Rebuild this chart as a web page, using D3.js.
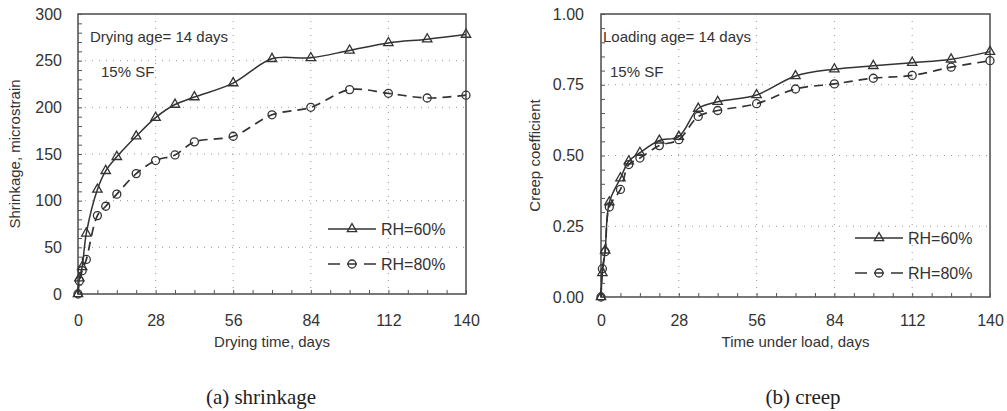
<!DOCTYPE html>
<html>
<head>
<meta charset="utf-8">
<script src="https://cdn.jsdelivr.net/npm/d3@7"></script>
<style>
  body { margin: 0; background: #fff; }
  svg { display: block; font-family: "Liberation Sans", Arial, sans-serif; }
</style>
</head>
<body>
<svg id="viz" width="1007" height="411"></svg>
<script>
// time points, days
const days = [0, 0.5, 1.5, 3, 7, 10, 14, 21, 28, 35, 42, 56, 70, 84, 98, 112, 126, 140];

// (a) shrinkage, microstrain
const shrinkRH60 = [0, 17, 29, 65, 112, 132, 147, 169, 189, 203, 211, 226, 252, 253, 261, 269, 273, 278];
const shrinkRH80 = [0, 14, 25, 37, 84, 94, 107, 129, 143, 149, 163, 169, 192, 200, 219, 215, 210, 213];

// (b) creep coefficient
const creepRH60 = [0, 0.085, 0.165, 0.335, 0.42, 0.48, 0.51, 0.553, 0.567, 0.666, 0.69, 0.714, 0.781, 0.805, 0.817, 0.828, 0.84, 0.867];
const creepRH80 = [0, 0.10, 0.16, 0.318, 0.38, 0.468, 0.491, 0.535, 0.556, 0.638, 0.659, 0.683, 0.735, 0.753, 0.773, 0.783, 0.812, 0.835];

const xTicks = [0, 28, 56, 84, 112, 140];
const shrinkTicks = [0, 50, 100, 150, 200, 250, 300];
const creepTicks = [0, 0.25, 0.5, 0.75, 1.0];
const seriesNames = ['RH=60%', 'RH=80%'];

const svg = d3.select('#viz');
const ink = '#333';

function panel(cfg) {
    const g = svg.append('g');
    const x = d3.scaleLinear().domain([0, 140]).range([cfg.left, cfg.right]);
    const y = d3.scaleLinear().domain([cfg.yTicks[0], cfg.yTicks[cfg.yTicks.length - 1]]).range([cfg.bottom, cfg.top]);

    // dotted grid
    g.selectAll('.hg').data(cfg.yTicks.slice(1, -1)).enter().append('line')
        .attr('x1', cfg.left).attr('x2', cfg.right)
        .attr('y1', d => y(d)).attr('y2', d => y(d))
        .attr('stroke', '#999').attr('stroke-width', 1).attr('stroke-dasharray', '1,6');
    g.selectAll('.vg').data(xTicks.slice(1, -1)).enter().append('line')
        .attr('x1', d => x(d)).attr('x2', d => x(d))
        .attr('y1', cfg.top).attr('y2', cfg.bottom)
        .attr('stroke', '#999').attr('stroke-width', 1).attr('stroke-dasharray', '1,6');

    // minor ticks, pointing inward
    g.append('g').attr('transform', `translate(0,${cfg.bottom})`)
        .call(d3.axisTop(x).tickValues(d3.range(0, 141, 7)).tickSize(4).tickFormat(''))
        .call(a => a.select('.domain').remove())
        .selectAll('line').attr('stroke', '#555');
    g.append('g').attr('transform', `translate(${cfg.left},0)`)
        .call(d3.axisRight(y).tickValues(d3.range(cfg.yTicks[0], cfg.yTicks[cfg.yTicks.length - 1] + cfg.minor / 2, cfg.minor)).tickSize(4).tickFormat(''))
        .call(a => a.select('.domain').remove())
        .selectAll('line').attr('stroke', '#555');

    // tick labels
    g.append('g').attr('transform', `translate(0,312)`)
        .call(d3.axisBottom(x).tickValues(xTicks).tickSize(0))
        .call(a => a.select('.domain').remove())
        .selectAll('text').attr('font-size', 16).attr('fill', ink).attr('font-family', 'Liberation Sans, Arial, sans-serif');
    g.append('g').attr('transform', `translate(${cfg.left - cfg.labGap},0)`)
        .call(d3.axisLeft(y).tickValues(cfg.yTicks).tickSize(0).tickFormat(cfg.fmt))
        .call(a => a.select('.domain').remove())
        .selectAll('text').attr('font-size', 16).attr('fill', ink).attr('font-family', 'Liberation Sans, Arial, sans-serif');

    // frame
    g.append('rect')
        .attr('x', cfg.left).attr('y', cfg.top)
        .attr('width', cfg.right - cfg.left).attr('height', cfg.bottom - cfg.top)
        .attr('fill', 'none').attr('stroke', '#555').attr('stroke-width', 1.6);

    // lines
    const line = d3.line()
        .x((d, i) => x(days[i]))
        .y(d => y(d))
        .curve(d3.curveCatmullRom.alpha(0.5));

    g.append('path').datum(cfg.s60).attr('d', line)
        .attr('fill', 'none').attr('stroke', ink).attr('stroke-width', 1.5);
    g.append('path').datum(cfg.s80).attr('d', line)
        .attr('fill', 'none').attr('stroke', ink).attr('stroke-width', 1.7).attr('stroke-dasharray', '9,6');

    const tri = d3.symbol().type(d3.symbolTriangle).size(38);
    g.selectAll('.tri').data(cfg.s60).enter().append('path')
        .attr('d', tri)
        .attr('transform', (d, i) => `translate(${x(days[i])},${y(d)})`)
        .attr('fill', 'none').attr('stroke', ink).attr('stroke-width', 1.3);
    g.selectAll('.cir').data(cfg.s80).enter().append('circle')
        .attr('cx', (d, i) => x(days[i])).attr('cy', d => y(d)).attr('r', 4)
        .attr('fill', 'none').attr('stroke', ink).attr('stroke-width', 1.3);

    // legend
    const lx = cfg.legX, ly = cfg.legY;
    g.append('line').attr('x1', lx).attr('x2', lx + 48).attr('y1', ly).attr('y2', ly)
        .attr('stroke', ink).attr('stroke-width', 1.5);
    g.append('path').attr('d', tri).attr('transform', `translate(${lx + 24},${ly})`)
        .attr('fill', 'none').attr('stroke', ink).attr('stroke-width', 1.3);
    g.append('line').attr('x1', lx).attr('x2', lx + 48).attr('y1', ly + 35).attr('y2', ly + 35)
        .attr('stroke', ink).attr('stroke-width', 1.7).attr('stroke-dasharray', '12,7,10,7,12');
    g.append('circle').attr('cx', lx + 24).attr('cy', ly + 35).attr('r', 4)
        .attr('fill', 'none').attr('stroke', ink).attr('stroke-width', 1.3);
    g.selectAll('.lt').data(seriesNames).enter().append('text')
        .attr('x', lx + 53).attr('y', (d, i) => ly + i * 35 + 6)
        .attr('font-size', 16).attr('fill', ink).text(d => d);

    // annotations
    g.append('text').attr('x', cfg.noteX).attr('y', 42).attr('font-size', 15).attr('fill', ink).text(cfg.note);
    g.append('text').attr('x', cfg.noteX + cfg.sfDx).attr('y', 77).attr('font-size', 15).attr('fill', ink).text('15% SF');

    // axis titles
    g.append('text').attr('x', (cfg.left + cfg.right) / 2).attr('y', 347)
        .attr('text-anchor', 'middle').attr('font-size', 15).attr('fill', ink).text(cfg.xTitle);
    g.append('text')
        .attr('transform', `translate(${cfg.yTitleX},${(cfg.top + cfg.bottom) / 2}) rotate(-90)`)
        .attr('text-anchor', 'middle').attr('font-size', 15).attr('fill', ink).text(cfg.yTitle);

    // caption
    g.append('text').attr('x', cfg.capX).attr('y', 404)
        .attr('text-anchor', 'middle').attr('font-size', 21).attr('fill', '#222')
        .attr('font-family', '"Liberation Serif", "Times New Roman", serif').text(cfg.caption);
}

panel({
    left: 78, right: 466, top: 14, bottom: 294,
    yTicks: shrinkTicks, minor: 10, fmt: d3.format('d'), labGap: 13,
    s60: shrinkRH60, s80: shrinkRH80,
    legX: 328, legY: 229,
    note: 'Drying age= 14 days', noteX: 90, sfDx: 11,
    xTitle: 'Drying time, days', yTitle: 'Shrinkage, microstrain', yTitleX: 20,
    caption: '(a) shrinkage', capX: 261
});

panel({
    left: 601, right: 990, top: 14, bottom: 297,
    yTicks: creepTicks, minor: 0.05, fmt: d3.format('.2f'), labGap: 14,
    s60: creepRH60, s80: creepRH80,
    legX: 855, legY: 238,
    note: 'Loading age= 14 days', noteX: 603, sfDx: 7,
    xTitle: 'Time under load, days', yTitle: 'Creep coefficient', yTitleX: 540,
    caption: '(b) creep', capX: 803
});
</script>
</body>
</html>
